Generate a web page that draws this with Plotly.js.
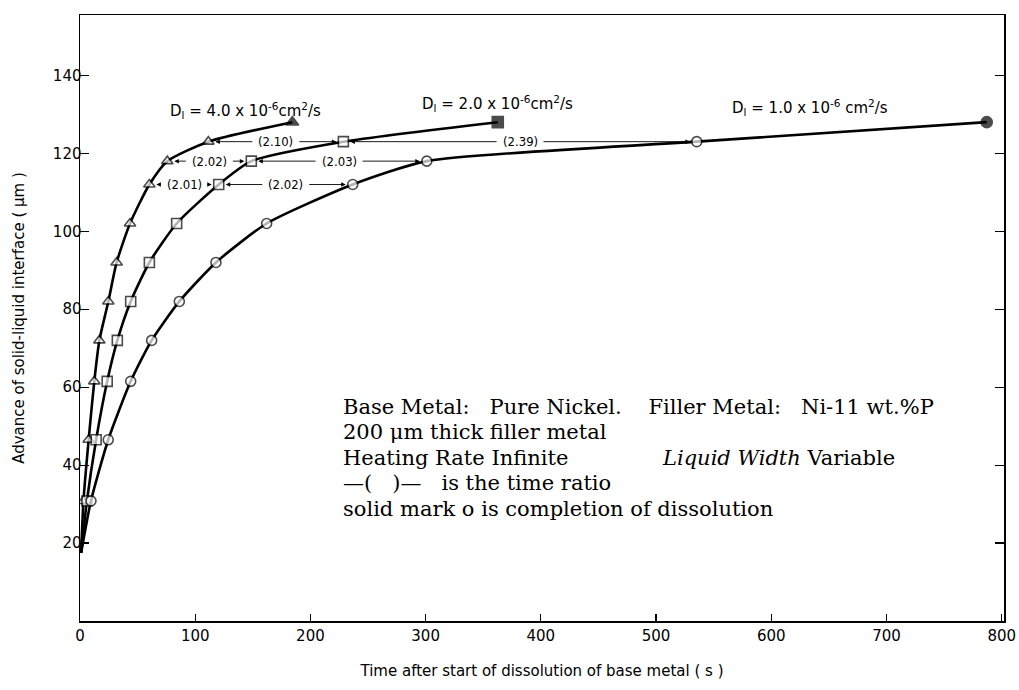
<!DOCTYPE html>
<html>
<head>
<meta charset="utf-8">
<script src="https://cdn.plot.ly/plotly-3.0.1.min.js"></script>
<style>html,body{margin:0;padding:0;background:#fff;}#chart{width:1019px;height:690px;}</style>
</head>
<body>
<div id="chart"></div>
<script>
// advance of solid-liquid interface levels (µm), shared by the three curves
const levels = [17.5, 30.8, 46.5, 61.5, 72, 82, 92, 102, 112, 118, 123, 128];
// time (s) for D_l = 4.0e-6 cm2/s (triangles)
const timeD4 = [1, 3, 7.5, 12.4, 16.8, 24.6, 31.8, 43.4, 60.2, 75.8, 111.4, 184.3];
// time (s) for D_l = 2.0e-6 cm2/s (squares)
const timeD2 = [1, 6, 14, 23.6, 32.4, 44, 60.2, 83.9, 120.4, 148.7, 228.6, 362.6];
// time (s) for D_l = 1.0e-6 cm2/s (circles)
const timeD1 = [1, 9.5, 24.5, 44, 62.2, 86.2, 118, 162, 236.7, 301, 535.3, 787];

const seriesNames = ['D4', 'D2', 'D1'];
const seriesSymbols = ['triangle-up', 'square', 'circle'];
const curveLabels = [
  'D<sub>l</sub> = 4.0 x 10<sup>-6</sup>cm<sup>2</sup>/s',
  'D<sub>l</sub> = 2.0 x 10<sup>-6</sup>cm<sup>2</sup>/s',
  'D<sub>l</sub> = 1.0 x 10<sup>-6</sup> cm<sup>2</sup>/s'
];
// time ratios between neighbouring curves at a given level index
const ratioLabels = ['(2.10)', '(2.39)', '(2.02)', '(2.03)', '(2.01)', '(2.02)'];
const ratioLevelIdx = [10, 10, 9, 9, 8, 8];
const ratioFromSeries = [0, 1, 0, 1, 0, 1];

const xTicks = [0, 100, 200, 300, 400, 500, 600, 700, 800];
const yTicks = [20, 40, 60, 80, 100, 120, 140];

const sp = '\u00a0';
const noteLines = [
  'Base Metal:' + sp.repeat(3) + 'Pure Nickel.' + sp.repeat(4) + 'Filler Metal:' + sp.repeat(3) + 'Ni-11 wt.%P',
  '200 \u03bcm thick filler metal',
  'Heating Rate Infinite',
  '\u2014(' + sp.repeat(3) + ')\u2014' + sp.repeat(2) + ' is the time ratio',
  'solid mark o is completion of dissolution'
];
const noteSide = '<i>Liquid Width</i> Variable';

const allTimes = [timeD4, timeD2, timeD1];
const n = levels.length;

const traces = allTimes.map((t, i) => {
  const sizes = levels.map((_, k) => (k === 0 ? 0 : (k === n - 1 ? 11 : 10)));
  const colors = levels.map((_, k) => (k === n - 1 ? '#000' : '#fff'));
  return {
    x: t, y: levels, name: seriesNames[i], type: 'scatter', mode: 'lines+markers',
    line: {color: '#000', width: 2.6, shape: 'spline', smoothing: 0.6},
    marker: {symbol: seriesSymbols[i], size: sizes, color: colors, line: {color: '#000', width: 1.6}},
    showlegend: false, hoverinfo: 'skip'
  };
});

const annotations = [];
const pxPerX = 924 / 802;
const halfText = 22 / pxPerX;
const gap = 7 / pxPerX;
ratioLabels.forEach((lab, j) => {
  const k = ratioLevelIdx[j];
  const a = allTimes[ratioFromSeries[j]][k];
  const b = allTimes[ratioFromSeries[j] + 1][k];
  const y = levels[k];
  const mid = (a + b) / 2;
  annotations.push({x: mid, y: y, xref: 'x', yref: 'y', text: lab, showarrow: false,
    font: {family: 'DejaVu Sans Condensed, DejaVu Sans', size: 13, color: '#000'}});
  annotations.push({x: a + gap, y: y, ax: mid - halfText, ay: y, xref: 'x', yref: 'y', axref: 'x', ayref: 'y',
    text: '', showarrow: true, arrowhead: 2, arrowsize: 1, arrowwidth: 0.9, arrowcolor: '#000', standoff: 0, startstandoff: 0});
  annotations.push({x: b - gap, y: y, ax: mid + halfText, ay: y, xref: 'x', yref: 'y', axref: 'x', ayref: 'y',
    text: '', showarrow: true, arrowhead: 2, arrowsize: 1, arrowwidth: 0.9, arrowcolor: '#000', standoff: 0, startstandoff: 0});
});

const labelX = [76, 295, 564];
const labelY = [131, 132.8, 131.8];
curveLabels.forEach((t, i) => {
  annotations.push({x: labelX[i], y: labelY[i], xref: 'x', yref: 'y', text: t, showarrow: false,
    xanchor: 'left', yanchor: 'middle', font: {family: 'DejaVu Sans', size: 15, color: '#000'}});
});

const noteFont = {family: 'DejaVu Serif', size: 21, color: '#000'};
const noteY = [55, 48.4, 41.8, 35.3, 28.8];
noteLines.forEach((t, i) => {
  annotations.push({x: 226.6, y: noteY[i], xref: 'x', yref: 'y', text: t, showarrow: false,
    xanchor: 'left', yanchor: 'middle', font: noteFont});
});
annotations.push({x: 503, y: noteY[2], xref: 'x', yref: 'y', text: noteSide, showarrow: false,
  xanchor: 'left', yanchor: 'middle', font: noteFont});

const layout = {
  width: 1019, height: 690,
  margin: {l: 80, r: 15, t: 15, b: 69},
  paper_bgcolor: '#fff', plot_bgcolor: '#fff',
  font: {family: 'DejaVu Sans', color: '#000'},
  xaxis: {
    range: [0, 802], tickvals: xTicks, ticks: 'inside', ticklen: 7, tickwidth: 1.2, tickcolor: '#000',
    showline: true, linecolor: '#000', linewidth: 1.5, mirror: true, showgrid: false, zeroline: false,
    tickfont: {family: 'DejaVu Sans', size: 15, color: '#000'},
    title: {text: 'Time after start of dissolution of base metal ( s )', font: {family: 'DejaVu Sans', size: 15, color: '#000'}, standoff: 22}
  },
  yaxis: {
    range: [0, 155.5], tickvals: yTicks, ticks: 'inside', ticklen: 9, tickwidth: 1.2, tickcolor: '#000',
    showline: true, linecolor: '#000', linewidth: 1.5, mirror: 'ticks', showgrid: false, zeroline: false,
    ticklabelstandoff: -6,
    tickfont: {family: 'DejaVu Sans', size: 15, color: '#000'},
    title: {text: 'Advance of solid-liquid interface ( \u03bcm )', font: {family: 'DejaVu Sans', size: 15, color: '#000'}, standoff: 24}
  },
  annotations: annotations
};

Plotly.newPlot('chart', traces, layout, {displayModeBar: false, staticPlot: true});
</script>
</body>
</html>
